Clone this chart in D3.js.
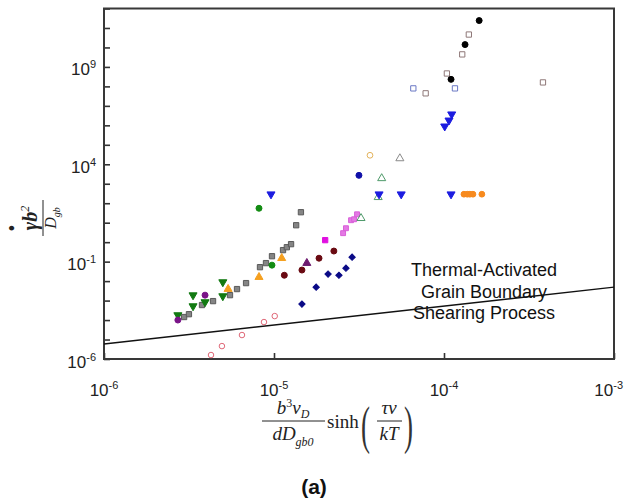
<!DOCTYPE html>
<html>
<head>
<meta charset="utf-8">
<script src="https://cdn.jsdelivr.net/npm/d3@7/dist/d3.min.js"></script>
<style>
  html, body { margin: 0; padding: 0; background: #fff; }
  svg { display: block; }
  text { font-family: "Liberation Sans", Arial, sans-serif; }
  .serif { font-family: "Liberation Serif", "Times New Roman", serif; }
</style>
</head>
<body>
<svg id="chart" width="626" height="499"></svg>
<script>
// ---------------- DATA ----------------
const xTicks = [1e-6, 1e-5, 1e-4, 1e-3];
const xTickExps = ["-6", "-5", "-4", "-3"];
const yTicks = [1e-6,1e-5,1e-4,1e-3,1e-2,1e-1,1e0,1e1,1e2,1e3,1e4,1e5,1e6,1e7,1e8,1e9,1e10,1e11,1e12];
const yLabelTicks = [1e-6, 1e-1, 1e4, 1e9];
const yLabelExps = ["-6", "-1", "4", "9"];

const blackCircles = [[1.61e-4, 2.4e11], [1.33e-4, 1.4e10], [1.10e-4, 2.3e8]];
const grayOpenSquares = [[1.40e-4, 4.6e10], [1.28e-4, 4.4e9], [1.04e-4, 4.6e8], [7.8e-5, 4.4e7], [3.82e-4, 1.6e8]];
const blueOpenSquares = [[6.6e-5, 7.9e7], [1.16e-4, 7.9e7]];
const blueDownTriangles = [[1.11e-4, 3.7e6], [1.07e-4, 1.8e6], [1.01e-4, 8.9e5],
  [9.6e-6, 290], [4.15e-5, 290], [5.6e-5, 290], [1.10e-4, 290]];
const orangeCircles = [[1.31e-4, 290], [1.37e-4, 290], [1.42e-4, 290], [1.48e-4, 290], [1.67e-4, 290]];
const orangeOpenCircles = [[3.67e-5, 2.9e4]];
const grayOpenTriangles = [[5.5e-5, 2.0e4]];
const greenOpenTriangles = [[4.3e-5, 1.9e3], [4.1e-5, 203], [3.25e-5, 17]];
const navyCircles = [[3.16e-5, 2.7e3]];
const magentaSquares = [[2.0e-5, 1.27]];
const pinkSquares = [[2.55e-5, 2.9], [2.65e-5, 5.2], [2.84e-5, 13.4], [2.96e-5, 15], [3.08e-5, 27]];
const graySquares = [[2.96e-6, 1.43e-4], [3.16e-6, 2.0e-4], [3.77e-6, 5.9e-4], [4.38e-6, 9.4e-4],
  [5.51e-6, 1.9e-3], [6.06e-6, 3.9e-3], [6.85e-6, 7.9e-3], [8.27e-6, 0.052], [8.97e-6, 0.084],
  [9.73e-6, 0.19], [1.13e-5, 0.39], [1.19e-5, 0.55], [1.26e-5, 0.79], [1.35e-5, 7.4], [1.44e-5, 34.5]];
const greenDownTriangles = [[2.72e-6, 1.8e-4], [3.34e-6, 5.2e-4], [3.34e-6, 1.9e-3], [3.93e-6, 8.4e-4],
  [5.0e-6, 8.9e-3], [5.0e-6, 1.7e-3]];
const greenCircles = [[8.16e-6, 55], [9.73e-6, 0.066]];
const purpleCircles = [[2.72e-6, 1.0e-4], [3.93e-6, 1.9e-3]];
const purpleTriangles = [[1.56e-5, 0.084]];
const orangeTriangles = [[5.37e-6, 3.9e-3], [8.16e-6, 0.016], [1.11e-5, 0.15]];
const maroonCircles = [[1.15e-5, 0.020], [1.46e-5, 0.037], [1.84e-5, 0.15], [2.25e-5, 0.35]];
const navyDiamonds = [[1.46e-5, 6.6e-4], [1.77e-5, 4.9e-3], [2.08e-5, 0.023], [2.41e-5, 0.020],
  [2.65e-5, 0.046], [2.88e-5, 0.17]];
const pinkOpenCircles = [[4.26e-6, 1.6e-6], [4.94e-6, 4.6e-6], [6.48e-6, 1.7e-5], [8.73e-6, 7.9e-5], [1.01e-5, 1.6e-4]];

const boundaryLine = [[1e-6, 5.9e-6], [1e-3, 4.9e-3]];
const annotationLines = ["Thermal-Activated", "Grain Boundary", "Shearing Process"];

// ---------------- STYLES ----------------
const seriesList = [
  { data: pinkOpenCircles, shape: d3.symbolCircle, size: 24, fill: "none", stroke: "#e06878" },
  { data: graySquares, shape: d3.symbolSquare, size: 28, fill: "#858585", stroke: "#5a5a5a" },
  { data: greenDownTriangles, shape: d3.symbolTriangle, size: 28, rot: 180, fill: "#127a12", stroke: "#127a12" },
  { data: purpleCircles, shape: d3.symbolCircle, size: 28, fill: "#7a1488", stroke: "#7a1488" },
  { data: greenCircles, shape: d3.symbolCircle, size: 28, fill: "#138c13", stroke: "#138c13" },
  { data: orangeTriangles, shape: d3.symbolTriangle, size: 28, fill: "#f5a020", stroke: "#f5a020" },
  { data: maroonCircles, shape: d3.symbolCircle, size: 28, fill: "#6a0a12", stroke: "#6a0a12" },
  { data: purpleTriangles, shape: d3.symbolTriangle, size: 28, fill: "#6e1a70", stroke: "#6e1a70" },
  { data: navyDiamonds, shape: d3.symbolSquare, size: 20, rot: 45, fill: "#0a0a86", stroke: "#0a0a86" },
  { data: magentaSquares, shape: d3.symbolSquare, size: 28, fill: "#e010e0", stroke: "#e010e0" },
  { data: pinkSquares, shape: d3.symbolSquare, size: 24, fill: "#e478e4", stroke: "#d860d8" },
  { data: greenOpenTriangles, shape: d3.symbolTriangle, size: 28, fill: "none", stroke: "#4f9a6a" },
  { data: navyCircles, shape: d3.symbolCircle, size: 28, fill: "#1010a8", stroke: "#1010a8" },
  { data: grayOpenTriangles, shape: d3.symbolTriangle, size: 28, fill: "none", stroke: "#8a8a8a" },
  { data: orangeOpenCircles, shape: d3.symbolCircle, size: 26, fill: "none", stroke: "#e3b25a" },
  { data: orangeCircles, shape: d3.symbolCircle, size: 26, fill: "#f78a1e", stroke: "#f78a1e" },
  { data: blueDownTriangles, shape: d3.symbolTriangle, size: 28, rot: 180, fill: "#1c1ce0", stroke: "#1c1ce0" },
  { data: blueOpenSquares, shape: d3.symbolSquare, size: 28, fill: "none", stroke: "#6a78c4" },
  { data: grayOpenSquares, shape: d3.symbolSquare, size: 28, fill: "none", stroke: "#8f7878" },
  { data: blackCircles, shape: d3.symbolCircle, size: 28, fill: "#000", stroke: "#000" }
];

// ---------------- CHART ----------------
const svg = d3.select("#chart");
const L = 104, R = 614, T = 8.5, B = 359;
const x = d3.scaleLog().domain([1e-6, 1e-3]).range([L, R]);
const y = d3.scaleLog().domain([1e-6, 1e12]).range([B, T]);

// ticks (inward)
const xAxis = svg.append("g").attr("transform", `translate(0,${B})`)
  .call(d3.axisBottom(x).tickValues(xTicks).tickSize(-6).tickFormat(""));
const yAxis = svg.append("g").attr("transform", `translate(${L},0)`)
  .call(d3.axisLeft(y).tickValues(yTicks).tickSize(-6).tickFormat(""));
[xAxis, yAxis].forEach(g => {
  g.select(".domain").remove();
  g.selectAll(".tick line").attr("stroke", "#333").attr("stroke-width", 1.6);
});

// frame
svg.append("rect").attr("x", L).attr("y", T).attr("width", R - L).attr("height", B - T)
  .attr("fill", "none").attr("stroke", "#383838").attr("stroke-width", 2);

// tick labels
xTicks.forEach((v, i) => {
  const last = i === xTicks.length - 1;
  const t = svg.append("text").attr("x", last ? 623 : x(v)).attr("y", 396)
    .attr("text-anchor", last ? "end" : "middle")
    .attr("font-size", 17).attr("fill", "#222");
  t.append("tspan").text("10");
  t.append("tspan").attr("dy", -7).attr("font-size", 11).text(xTickExps[i]);
});
yLabelTicks.forEach((v, i) => {
  const t = svg.append("text").attr("x", 96).attr("y", y(v) + 8.5).attr("text-anchor", "end")
    .attr("font-size", 17).attr("fill", "#222");
  t.append("tspan").text("10");
  t.append("tspan").attr("dy", -7).attr("font-size", 11).text(yLabelExps[i]);
});

// boundary line
svg.append("path")
  .attr("d", d3.line().x(d => x(d[0])).y(d => y(d[1]))(boundaryLine))
  .attr("fill", "none").attr("stroke", "#111").attr("stroke-width", 1.4);

// points
seriesList.forEach(s => {
  svg.append("g").selectAll("path").data(s.data).join("path")
    .attr("transform", d => `translate(${x(d[0])},${y(d[1])})` + (s.rot ? ` rotate(${s.rot})` : ""))
    .attr("d", d3.symbol().type(s.shape).size(s.size))
    .attr("fill", s.fill).attr("stroke", s.stroke).attr("stroke-width", 1);
});

// annotation
annotationLines.forEach((txt, i) => {
  svg.append("text").attr("x", 484).attr("y", 276 + i * 21.5).attr("text-anchor", "middle")
    .attr("font-size", 18).attr("fill", "#111").text(txt);
});

// x-axis title: b^3 v_D / (d D_gb0) sinh( tau v / kT )
const xt = svg.append("g");
const fs = 19;
const num = xt.append("text").attr("class", "serif").attr("x", 293).attr("y", 414)
  .attr("text-anchor", "middle").attr("font-size", fs).attr("font-style", "italic").attr("fill", "#222");
num.append("tspan").text("b");
num.append("tspan").attr("dy", -7).attr("font-size", 12).attr("font-style", "normal").text("3");
num.append("tspan").attr("dy", 7).text("ν");
num.append("tspan").attr("dy", 4).attr("font-size", 12).text("D");
xt.append("line").attr("x1", 262).attr("x2", 325).attr("y1", 421).attr("y2", 421)
  .attr("stroke", "#222").attr("stroke-width", 1);
const den = xt.append("text").attr("class", "serif").attr("x", 293).attr("y", 440)
  .attr("text-anchor", "middle").attr("font-size", fs).attr("font-style", "italic").attr("fill", "#222");
den.append("tspan").text("dD");
den.append("tspan").attr("dy", 6).attr("font-size", 12).text("gb0");
xt.append("text").attr("class", "serif").attr("x", 327).attr("y", 428).attr("font-size", fs)
  .attr("fill", "#222").text("sinh");
xt.append("text").attr("class", "serif").attr("transform", "translate(361,443) scale(0.75,1.45)")
  .attr("font-size", 36).attr("fill", "#333").text("(");
xt.append("text").attr("class", "serif").attr("x", 389).attr("y", 414).attr("text-anchor", "middle")
  .attr("font-size", fs).attr("font-style", "italic").attr("fill", "#222").text("τν");
xt.append("line").attr("x1", 377).attr("x2", 402).attr("y1", 421).attr("y2", 421)
  .attr("stroke", "#222").attr("stroke-width", 1);
xt.append("text").attr("class", "serif").attr("x", 389).attr("y", 440).attr("text-anchor", "middle")
  .attr("font-size", fs).attr("font-style", "italic").attr("fill", "#222").text("kT");
xt.append("text").attr("class", "serif").attr("transform", "translate(404,443) scale(0.75,1.45)")
  .attr("font-size", 36).attr("fill", "#333").text(")");

// y-axis title: gamma-dot b^2 / D_gb (rotated)
const yt = svg.append("g").attr("transform", "translate(43,218) rotate(-90)");
const yn = yt.append("text").attr("class", "serif").attr("x", 0).attr("y", -6).attr("text-anchor", "middle")
  .attr("font-size", 20).attr("font-style", "italic").attr("font-weight", "bold").attr("fill", "#222");
yn.append("tspan").text("γ");
yn.append("tspan").text("b");
yn.append("tspan").attr("dy", -8).attr("font-size", 12).attr("font-weight", "normal").text("2");
yt.append("text").attr("class", "serif").attr("x", -10).attr("y", -25).attr("text-anchor", "middle")
  .attr("font-size", 18).attr("font-weight", "bold").attr("fill", "#222").text("•");
yt.append("line").attr("x1", -18).attr("x2", 18).attr("y1", 0).attr("y2", 0)
  .attr("stroke", "#222").attr("stroke-width", 1);
const yd = yt.append("text").attr("class", "serif").attr("x", 0).attr("y", 13).attr("text-anchor", "middle")
  .attr("font-size", 16).attr("font-style", "italic").attr("fill", "#222");
yd.append("tspan").text("D");
yd.append("tspan").attr("dy", 4).attr("font-size", 10).text("gb");

// caption
svg.append("text").attr("x", 314).attr("y", 494).attr("text-anchor", "middle")
  .attr("font-size", 21).attr("font-weight", "bold").attr("fill", "#111").text("(a)");
</script>
</body>
</html>
